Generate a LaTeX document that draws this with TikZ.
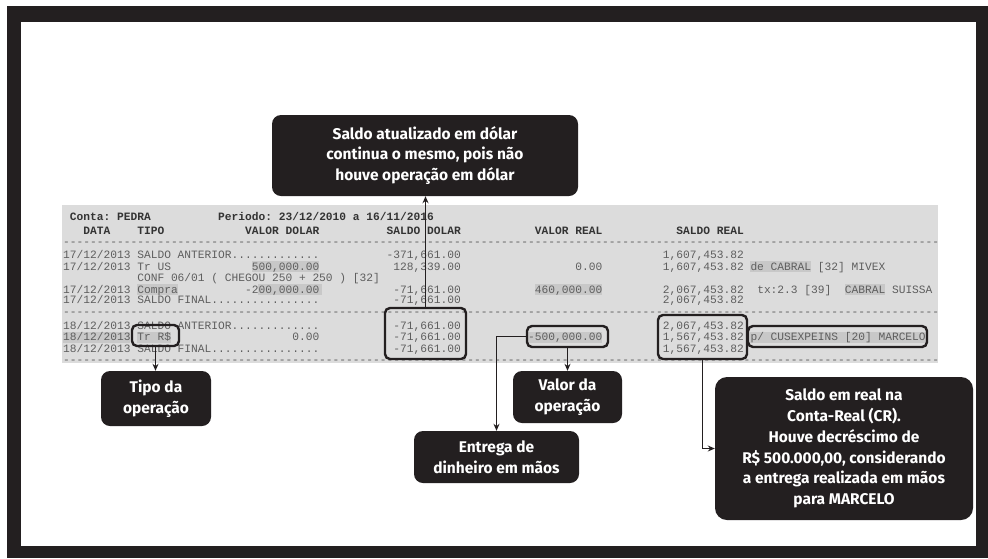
\documentclass[tikz,border=0pt]{standalone}
\usepackage{fontspec}
\setmainfont{Fira Sans}
\newfontfamily\mono{Liberation Mono}
\usetikzlibrary{arrows.meta}
\definecolor{dark}{HTML}{231F20}
\definecolor{panel}{HTML}{DCDCDC}
\definecolor{hl}{HTML}{C8C8C8}
\definecolor{txt}{HTML}{5E5E5E}
\newcommand\spc[1]{\hspace*{#1\dimexpr 0.6em\relax}}
\newcommand\dashline{\foreach\i in {1,...,130}{-}}
\frenchspacing
\begin{document}
\begin{tikzpicture}[x=1pt,y=-1pt,
  callout/.style={fill=dark, rounded corners=9pt, text=white, align=center, inner sep=0pt,
    font=\bfseries\fontsize{15.5}{20.8}\selectfont},
  markbox/.style={draw=dark, line width=2.4pt, rounded corners=5pt, inner sep=0pt},
  conn/.style={draw=dark, line width=1.7pt, -{Stealth[length=7pt,width=6pt]}},
  rowtxt/.style={anchor=base west, inner sep=0pt, text=txt, font=\mono\fontsize{11.23}{11}\selectfont},
  headtxt/.style={rowtxt, text=black!80, font=\mono\bfseries\fontsize{11.23}{11}\selectfont},
  hlbox/.style={fill=hl}]
\useasboundingbox (0,0) rectangle (988,558);
% frame
\fill[dark] (7,6) rectangle (988,558);
\fill[white] (21,22) rectangle (976,546);
% panel
\fill[panel] (62,205) rectangle (938,363);
% highlights
\def\cw{6.74}
\fill[hlbox] ({63+28*\cw},261) rectangle ({63+38*\cw},272);
\fill[hlbox] ({63+102*\cw},261) rectangle ({63+111*\cw},272);
\fill[hlbox] ({63+11*\cw},284) rectangle ({63+17*\cw},295);
\fill[hlbox] ({63+29*\cw},284) rectangle ({63+38.5*\cw},295);
\fill[hlbox] ({63+70*\cw},284) rectangle ({63+80*\cw},295);
\fill[hlbox] ({63+116*\cw},284) rectangle ({63+122*\cw},295);
\fill[hlbox] ({63+0*\cw},331.5) rectangle ({63+10*\cw},342.5);
\fill[hlbox] ({63+11*\cw},331.5) rectangle ({63+16*\cw},342.5);
\fill[hlbox] ({63+69*\cw},331.5) rectangle ({63+80*\cw},342.5);
\fill[hlbox] ({63+102*\cw},331.5) rectangle ({63+128*\cw},342.5);
% listing
\node[headtxt] (h1) at (63,220) {\spc{1}Conta: PEDRA\spc{10}Periodo: 23/12/2010 a 16/11/2016};
\node[headtxt] (h2) at (63,234) {\spc{3}DATA\spc{4}TIPO\spc{12}VALOR DOLAR\spc{10}SALDO DOLAR\spc{11}VALOR REAL\spc{11}SALDO REAL};
\node[rowtxt] (d1) at (63,245.5) {\dashline};
\node[rowtxt] (r1) at (63,258.7) {17/12/2013 SALDO ANTERIOR.............\spc{10}-371,661.00\spc{30}1,607,453.82};
\node[rowtxt] (r2) at (63,270) {17/12/2013 Tr US\spc{12}500,000.00\spc{11}128,339.00\spc{17}0.00\spc{9}1,607,453.82\spc{1}de CABRAL [32] MIVEX};
\node[rowtxt] (r3) at (63,281.5) {\spc{11}CONF 06/01 ( CHEGOU 250 + 250 ) [32]};
\node[rowtxt] (r4) at (63,293) {17/12/2013 Compra\spc{10}-200,000.00\spc{11}-71,661.00\spc{11}460,000.00\spc{9}2,067,453.82\spc{2}tx:2.3 [39]\spc{2}CABRAL SUISSA};
\node[rowtxt] (r5) at (63,303.5) {17/12/2013 SALDO FINAL................\spc{11}-71,661.00\spc{30}2,067,453.82};
\node[rowtxt] (d2) at (63,315.3) {\dashline};
\node[rowtxt] (r6) at (63,329.4) {18/12/2013 SALDO ANTERIOR.............\spc{11}-71,661.00\spc{30}2,067,453.82};
\node[rowtxt] (r7) at (63,340.4) {18/12/2013 Tr R\$\spc{18}0.00\spc{11}-71,661.00\spc{10}-500,000.00\spc{9}1,567,453.82\spc{1}p/ CUSEXPEINS [20] MARCELO};
\node[rowtxt] (r8) at (63,352.1) {18/12/2013 SALDO FINAL................\spc{11}-71,661.00\spc{30}1,567,453.82};
\node[rowtxt] (d3) at (63,363.6) {\dashline};
% marking boxes
\node[markbox, minimum width=47pt, minimum height=21pt] (trr) at (155.5,335.5) {};
\node[markbox, minimum width=81pt, minimum height=51pt] (sd) at (425.5,333.5) {};
\node[markbox, minimum width=81pt, minimum height=21pt] (vr) at (567.5,336.5) {};
\node[markbox, minimum width=89pt, minimum height=44pt] (sr) at (702.5,337) {};
\node[markbox, minimum width=179pt, minimum height=21pt] (mar) at (837.5,336.5) {};
% callouts
\node[callout, minimum width=306pt, minimum height=81pt] (ctop) at (425,155.5)
  {Saldo atualizado em dólar\\continua o mesmo, pois não\\houve operação em dólar};
\node[callout, minimum width=110pt, minimum height=55pt] (ctipo) at (156,398.5)
  {Tipo da\\operação};
\node[callout, minimum width=109pt, minimum height=52pt] (cvalor) at (567.5,397)
  {Valor da\\operação};
\node[callout, minimum width=165pt, minimum height=52pt] (centrega) at (496.5,457)
  {Entrega de\\dinheiro em mãos};
\node[callout, minimum width=258pt, minimum height=143pt, rounded corners=12pt] (csaldo) at (844,448.5)
  {Saldo em real na\\Conta-Real (CR).\\Houve decréscimo de\\R\$ 500.000,00, considerando\\a entrega realizada em mãos\\para MARCELO};
% connectors
\draw[conn] (trr.south) -- (trr.south |- ctipo.north);
\draw[conn] (sd.north) -- (sd.north |- ctop.south);
\draw[conn] (vr.west) -| (centrega.north);
\draw[conn] (vr.south) -- (vr.south |- cvalor.north);
\draw[conn] (sr.south) |- (csaldo.west);
\end{tikzpicture}
\end{document}
